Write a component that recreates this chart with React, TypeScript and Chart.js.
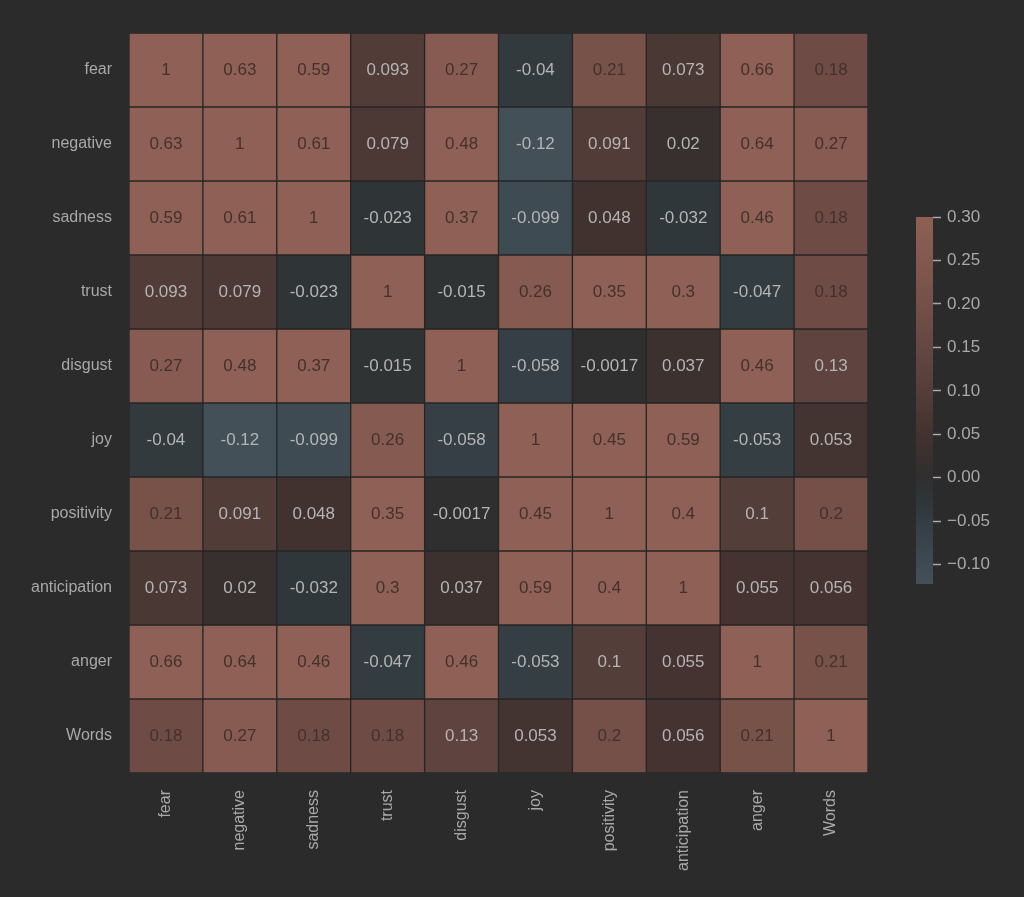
import React, { useEffect, useRef } from "react";
import { Chart, registerables } from "chart.js";

Chart.register(...registerables);

const labels = ["fear", "negative", "sadness", "trust", "disgust", "joy", "positivity", "anticipation", "anger", "Words"];

const fearRow = [1, 0.63, 0.59, 0.093, 0.27, -0.04, 0.21, 0.073, 0.66, 0.18];
const negativeRow = [0.63, 1, 0.61, 0.079, 0.48, -0.12, 0.091, 0.02, 0.64, 0.27];
const sadnessRow = [0.59, 0.61, 1, -0.023, 0.37, -0.099, 0.048, -0.032, 0.46, 0.18];
const trustRow = [0.093, 0.079, -0.023, 1, -0.015, 0.26, 0.35, 0.3, -0.047, 0.18];
const disgustRow = [0.27, 0.48, 0.37, -0.015, 1, -0.058, -0.0017, 0.037, 0.46, 0.13];
const joyRow = [-0.04, -0.12, -0.099, 0.26, -0.058, 1, 0.45, 0.59, -0.053, 0.053];
const positivityRow = [0.21, 0.091, 0.048, 0.35, -0.0017, 0.45, 1, 0.4, 0.1, 0.2];
const anticipationRow = [0.073, 0.02, -0.032, 0.3, 0.037, 0.59, 0.4, 1, 0.055, 0.056];
const angerRow = [0.66, 0.64, 0.46, -0.047, 0.46, -0.053, 0.1, 0.055, 1, 0.21];
const wordsRow = [0.18, 0.27, 0.18, 0.18, 0.13, 0.053, 0.2, 0.056, 0.21, 1];

const rows = [fearRow, negativeRow, sadnessRow, trustRow, disgustRow, joyRow, positivityRow, anticipationRow, angerRow, wordsRow];

const colorbarMin = -0.122;
const colorbarMax = 0.3;
const colorbarTicks = [-0.1, -0.05, 0, 0.05, 0.1, 0.15, 0.2, 0.25, 0.3];

const BG = "#2b2b2b";
const LABEL = "#a8a8a8";
const FONT = "'Liberation Sans', Arial, sans-serif";

type Stop = [number, number[]];
const posStops: Stop[] = [
  [0, [47, 47, 47]],
  [0.05, [66, 50, 48]],
  [0.1, [84, 62, 57]],
  [0.15, [100, 71, 65]],
  [0.2, [116, 80, 72]],
  [0.25, [130, 88, 79]],
  [0.3, [143, 96, 85]],
];
const negStops: Stop[] = [
  [0, [47, 47, 47]],
  [0.025, [47, 53, 56]],
  [0.05, [52, 61, 66]],
  [0.1, [62, 75, 83]],
  [0.122, [67, 80, 88]],
];

function colorFor(v: number): string {
  const stops = v >= 0 ? posStops : negStops;
  const a = Math.min(Math.abs(v), stops[stops.length - 1][0]);
  for (let i = 1; i < stops.length; i++) {
    if (a <= stops[i][0]) {
      const [v0, c0] = stops[i - 1];
      const [v1, c1] = stops[i];
      const t = (a - v0) / (v1 - v0);
      const c = c0.map((x, k) => Math.round(x + (c1[k] - x) * t));
      return `rgb(${c[0]},${c[1]},${c[2]})`;
    }
  }
  const c = stops[stops.length - 1][1];
  return `rgb(${c[0]},${c[1]},${c[2]})`;
}

function fmt(v: number): string {
  return Number(v.toPrecision(2)).toString();
}

const annotatePlugin = {
  id: "annotate",
  afterDatasetsDraw(chart: any) {
    const ctx = chart.ctx;
    ctx.save();
    ctx.font = `17px ${FONT}`;
    ctx.textAlign = "center";
    ctx.textBaseline = "middle";
    chart.data.datasets.forEach((ds: any, i: number) => {
      const meta = chart.getDatasetMeta(i);
      meta.data.forEach((el: any, j: number) => {
        const v = rows[i][j];
        const cy = (el.y + el.base) / 2;
        ctx.fillStyle = v >= 0.15 ? "#43312d" : "#b4b4b4";
        ctx.fillText(fmt(v), el.x, cy);
      });
    });
    ctx.restore();
  },
};

const gradientPlugin = {
  id: "cbgradient",
  beforeDatasetsDraw(chart: any) {
    const { ctx, chartArea } = chart;
    const scale = chart.scales.y;
    ctx.save();
    for (let py = Math.floor(chartArea.top); py < Math.ceil(chartArea.bottom); py++) {
      const v = scale.getValueForPixel(py + 0.5);
      ctx.fillStyle = colorFor(v);
      ctx.fillRect(chartArea.left, py, chartArea.right - chartArea.left, 1);
    }
    ctx.restore();
  },
};

export default function App() {
  const mainRef = useRef<HTMLCanvasElement>(null);
  const cbRef = useRef<HTMLCanvasElement>(null);

  useEffect(() => {
    const datasets = rows.map((row, i) => ({
      label: labels[i],
      data: row.map(() => [i, i + 1]),
      backgroundColor: row.map((v) => colorFor(v)),
      borderColor: "#262626",
      borderWidth: 1,
      borderSkipped: false,
      barPercentage: 1,
      categoryPercentage: 1,
    }));

    const main = new Chart(mainRef.current!, {
      type: "bar",
      data: { labels, datasets: datasets as any },
      options: {
        animation: false,
        responsive: false,
        maintainAspectRatio: false,
        layout: { padding: { left: 0, top: 33, right: 156, bottom: 0 } },
        plugins: { legend: { display: false }, tooltip: { enabled: false } },
        datasets: { bar: { grouped: false } } as any,
        scales: {
          x: {
            grid: { display: false },
            border: { display: false },
            ticks: {
              color: LABEL,
              font: { family: FONT, size: 16 },
              minRotation: 90,
              maxRotation: 90,
              padding: 9,
              autoSkip: false,
            },
            afterFit: (s: any) => {
              s.height = 124;
            },
          },
          y: {
            type: "linear",
            min: 0,
            max: 10,
            reverse: true,
            grid: { display: false },
            border: { display: false },
            afterBuildTicks: (s: any) => {
              s.ticks = labels.map((_, i) => ({ value: i + 0.5 }));
            },
            ticks: {
              color: LABEL,
              font: { family: FONT, size: 16 },
              padding: 9,
              autoSkip: false,
              callback: (v: any) => labels[Math.floor(Number(v))],
            },
            afterFit: (s: any) => {
              s.width = 129;
            },
          },
        },
      },
      plugins: [annotatePlugin],
    });

    const cb = new Chart(cbRef.current!, {
      type: "bar",
      data: { labels: [""], datasets: [{ data: [], backgroundColor: "transparent" }] },
      options: {
        animation: false,
        responsive: false,
        maintainAspectRatio: false,
        layout: { padding: { left: 16, top: 17, right: 0, bottom: 13 } },
        plugins: { legend: { display: false }, tooltip: { enabled: false } },
        scales: {
          x: { display: false },
          y: {
            position: "right",
            type: "linear",
            min: colorbarMin,
            max: colorbarMax,
            afterBuildTicks: (s: any) => {
              s.ticks = colorbarTicks.map((v) => ({ value: v }));
            },
            border: { display: false },
            grid: {
              drawOnChartArea: false,
              drawTicks: true,
              tickLength: 8,
              tickWidth: 1.5,
              tickColor: LABEL,
            },
            ticks: {
              color: LABEL,
              font: { family: FONT, size: 17 },
              padding: 6,
              callback: (v: any) => {
                const n = Number(v);
                const s = Math.abs(n).toFixed(2);
                return n < -1e-9 ? "\u2212" + s : s;
              },
            },
            afterFit: (s: any) => {
              s.width = 91;
            },
          },
        },
      },
      plugins: [gradientPlugin],
    });

    return () => {
      main.destroy();
      cb.destroy();
    };
  }, []);

  return (
    <div style={{ position: "fixed", left: 0, top: 0, width: 1024, height: 897, background: BG, overflow: "hidden" }}>
      <canvas ref={mainRef} width={1024} height={897} style={{ position: "absolute", left: 0, top: 0 }} />
      <canvas ref={cbRef} width={124} height={400} style={{ position: "absolute", left: 900, top: 200 }} />
    </div>
  );
}
